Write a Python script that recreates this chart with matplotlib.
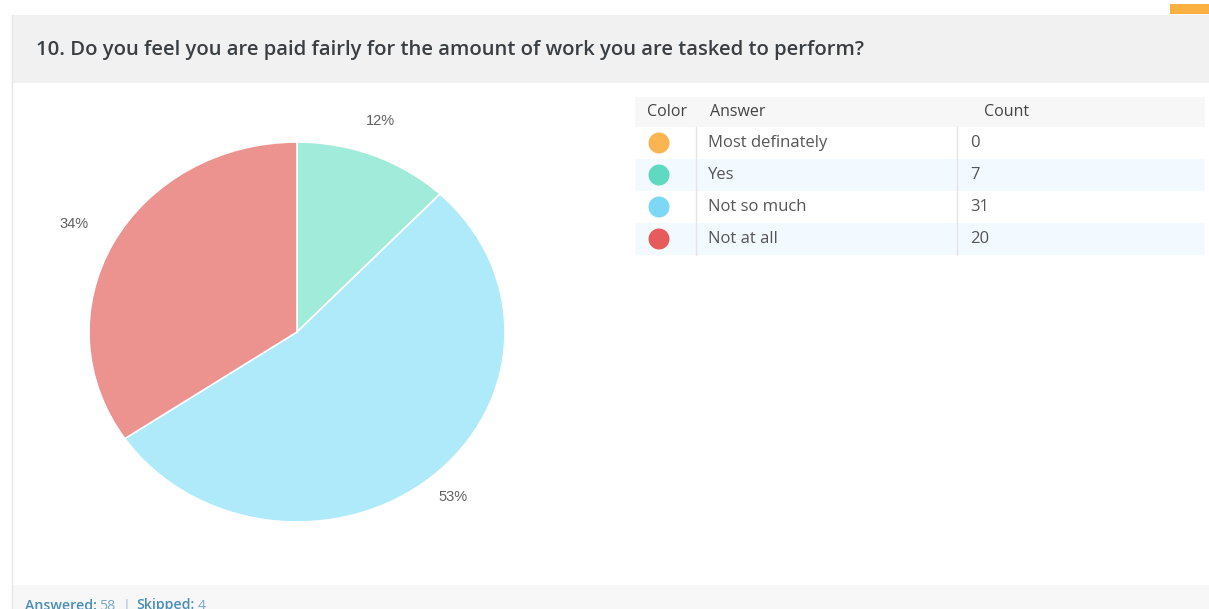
import matplotlib
matplotlib.use("Agg")
import matplotlib.pyplot as plt
from matplotlib.patches import Rectangle, Ellipse

W, H = 1209, 609
DPI = 100

question = "10. Do you feel you are paid fairly for the amount of work you are tasked to perform?"
answers = ["Most definately", "Yes", "Not so much", "Not at all"]
counts = [0, 7, 31, 20]
dot_colors = ["#f9b552", "#5fd9c0", "#7dd8f6", "#e65c5c"]
slice_colors = ["#fbd9a6", "#a1ebdb", "#aeeaf9", "#ec9390"]
answered = 58
skipped = 4

fig = plt.figure(figsize=(W / DPI, H / DPI), dpi=DPI)
fig.patch.set_facecolor("white")

# page layer in pixel coordinates
bg = fig.add_axes([0, 0, 1, 1])
bg.set_xlim(0, W); bg.set_ylim(H, 0); bg.axis("off")

# header band, accent tab, card border, footer
bg.add_patch(Rectangle((12, 15), W - 12, 68, facecolor="#f1f1f1", edgecolor="none"))
bg.add_patch(Rectangle((1170, 4), 39, 10, facecolor="#fbb040", edgecolor="none"))
bg.plot([12, 12], [15, H], color="#e6e6e6", lw=1)
bg.add_patch(Rectangle((13, 585), W - 13, 30, facecolor="#f7f7f7", edgecolor="none"))
bg.text(36, 50, question, ha="left", va="center", fontsize=14.6,
        family="Open Sans", fontweight="semibold", color="#3a3f44")

# footer summary, pieces laid one after another
renderer = fig.canvas.get_renderer()
parts = [("Answered:", "semibold", "#4a8db8", 2), (str(answered), "normal", "#7aa9c8", 8),
         ("|", "normal", "#9bbdd3", 5), ("Skipped:", "semibold", "#4a8db8", 4),
         (str(skipped), "normal", "#7aa9c8", 0)]
x = 25
for s, wt, col, gap in parts:
    t = bg.text(x, 609.5, s, ha="left", va="baseline", fontsize=10.2,
                family="Open Sans", fontweight=wt, color=col)
    bb = t.get_window_extent(renderer=renderer)
    x += bb.width + gap

# answer table
tx0, tx1 = 635, 1205
head_top, row_h = 97, 32
bg.add_patch(Rectangle((tx0, head_top), tx1 - tx0, 30, facecolor="#f7f7f7", edgecolor="none"))
for label, lx in [("Color", 647), ("Answer", 710), ("Count", 984)]:
    bg.text(lx, 112, label, ha="left", va="center", fontsize=11.5,
            family="Open Sans", color="#444444")
body_top = head_top + 30
for i, (ans, cnt, col) in enumerate(zip(answers, counts, dot_colors)):
    y0 = body_top + i * row_h
    if i % 2 == 1:
        bg.add_patch(Rectangle((tx0, y0), tx1 - tx0, row_h,
                               facecolor="#f3faff", edgecolor="none"))
    yc = y0 + row_h / 2
    bg.add_patch(Ellipse((659, yc), 21, 21, facecolor=col, edgecolor="none"))
    bg.text(708, yc, ans, ha="left", va="center", fontsize=12,
            family="Open Sans", color="#555555")
    bg.text(970, yc, str(cnt), ha="left", va="center", fontsize=12,
            family="Open Sans", color="#555555")
body_bot = body_top + len(answers) * row_h
bg.plot([696, 696], [body_top, body_bot], color="#e4e4e4", lw=1)
bg.plot([957, 957], [body_top, body_bot], color="#e4e4e4", lw=1)

# pie of non-zero answers, starting at 12 o'clock and running clockwise
total = sum(counts)
vals = [c for c in counts if c > 0]
cols = [c for c, n in zip(slice_colors, counts) if n > 0]
pcts = [f"{round(c / total * 100)}%" for c in vals]

cx, cy, rx, ry = 297, 332, 208, 190
pax = fig.add_axes([(cx - rx) / W, 1 - (cy + ry) / H, 2 * rx / W, 2 * ry / H])
wedges, texts = pax.pie(vals, colors=cols, labels=pcts, startangle=90,
                        counterclock=False, labeldistance=1.18,
                        wedgeprops=dict(edgecolor="white", linewidth=1.2))
for t in texts:
    t.set_ha("center"); t.set_va("center")
    t.set_fontsize(10.5); t.set_color("#606060"); t.set_family("Liberation Sans")
# nudge labels toward where the chart puts them
texts[0].set_position((0.40, 1.11))
texts[1].set_position((0.75, -0.87))
texts[2].set_position((-1.07, 0.57))
pax.set_aspect("auto")
pax.set_xlim(-1, 1); pax.set_ylim(-1, 1)

fig.savefig("out.png", dpi=DPI)
